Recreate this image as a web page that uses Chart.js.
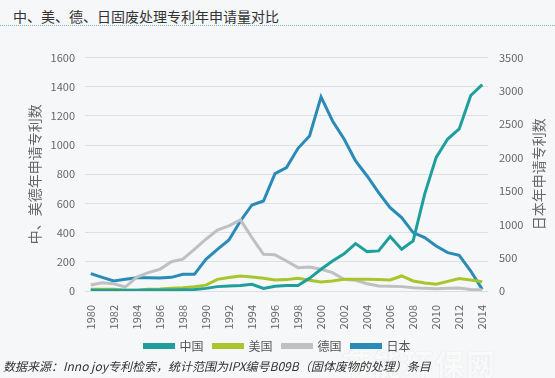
<!DOCTYPE html>
<html lang="zh">
<head>
    <meta charset="UTF-8">
    <title>中、美、德、日固废处理专利年申请量对比</title>
    <script src="https://cdn.jsdelivr.net/npm/chart.js"></script>
    <style>
        body {
            margin: 0;
            width: 555px;
            height: 378px;
            background: #f6f7f9;
            font-family: "Noto Sans CJK SC", sans-serif;
            position: relative;
            overflow: hidden;
        }
        .title {
            position: absolute;
            left: 13px;
            top: 6px;
            font-size: 14px;
            color: #333;
        }
        .rule {
            position: absolute;
            left: 0;
            right: 0;
            top: 25px;
            border-top: 1px dotted #7fb9b3;
        }
        .chart-box {
            position: absolute;
            left: 0;
            top: 40px;
            width: 555px;
            height: 323px;
        }
        .source {
            position: absolute;
            left: 3px;
            top: 357px;
            font-size: 12px;
            font-style: italic;
            color: #333;
        }
        .mark {
            position: absolute;
            left: 342px;
            top: 342px;
            font-size: 29px;
            font-weight: bold;
            letter-spacing: 2px;
            color: rgba(255, 255, 255, 0.9);
            text-shadow: 0 0 1px #cfd5da;
        }
    </style>
</head>
<body>
    <div class="title">中、美、德、日固废处理专利年申请量对比</div>
    <div class="rule"></div>

    <div class="mark">节能环保网</div>

    <div class="chart-box">
        <canvas id="patentChart" width="555" height="323"></canvas>
    </div>

    <div class="source">数据来源：Inno joy专利检索，统计范围为IPX编号B09B（固体废物的处理）条目</div>

    <script>
        // years 1980 - 2014
        let years = [];
        for (let y = 1980; y <= 2014; y++) years.push(String(y));

        // left axis (中、美、德)
        let china = [5, 5, 5, 5, 5, 6, 6, 7, 8, 10, 18, 30, 35, 37, 46, 18, 32, 38, 38, 87,
                     149, 206, 255, 325, 270, 275, 373, 286, 343, 664, 916, 1042, 1111, 1340, 1415];
        let usa = [12, 12, 12, 5, 5, 12, 14, 19, 23, 30, 40, 80, 92, 103, 96, 87, 76, 78, 87, 73,
                   62, 69, 80, 80, 80, 78, 76, 103, 69, 55, 46, 66, 85, 76, 64];
        let germany = [41, 57, 50, 27, 96, 126, 149, 201, 218, 286, 355, 417, 447, 488, 366, 252, 248, 206, 160, 165,
                       149, 126, 80, 73, 50, 34, 32, 30, 23, 18, 16, 18, 21, 10, 8];
        // right axis (日本)
        let japan = [260, 205, 150, 175, 200, 200, 195, 205, 250, 250, 475, 625, 765, 1050, 1290, 1350, 1760, 1850, 2140, 2325,
                     2910, 2550, 2280, 1950, 1725, 1475, 1250, 1100, 875, 800, 675, 575, 535, 300, 25];

        let leftTitle = "中、美德年申请专利数";
        let rightTitle = "日本年申请专利数";

        let tickColor = "#666";
        let gridColor = "#dddfe2";

        // right axis title reads bottom-to-top like the left one
        let rightTitlePlugin = {
            id: "rightTitle",
            afterDraw(chart) {
                let ctx = chart.ctx;
                let area = chart.chartArea;
                ctx.save();
                ctx.translate(539, (area.top + area.bottom) / 2);
                ctx.rotate(-Math.PI / 2);
                ctx.fillStyle = tickColor;
                ctx.font = "14px 'Noto Sans CJK SC'";
                ctx.textAlign = "center";
                ctx.textBaseline = "middle";
                ctx.fillText(rightTitle, 0, 0);
                ctx.restore();
            }
        };

        function lineSet(label, data, color, axis, width) {
            return {
                label: label,
                data: data,
                yAxisID: axis,
                borderColor: color,
                backgroundColor: color,
                borderWidth: width,
                pointRadius: 0,
                tension: 0,
                fill: false
            };
        }

        let plain = v => String(v);

        let ctx = document.getElementById("patentChart").getContext("2d");
        let patentChart = new Chart(ctx, {
            type: "line",
            data: {
                labels: years,
                datasets: [
                    lineSet("中国", china, "#1f9f9b", "y", 3),
                    lineSet("美国", usa, "#a8c52c", "y", 3),
                    lineSet("德国", germany, "#bfc0c2", "y", 3),
                    lineSet("日本", japan, "#2a8bb6", "y2", 3)
                ]
            },
            options: {
                responsive: false,
                animation: false,
                layout: { padding: { top: 17, left: 0, right: 0, bottom: 1 } },
                font: { family: "'Noto Sans CJK SC', sans-serif" },
                plugins: {
                    tooltip: { enabled: false },
                    legend: {
                        position: "bottom",
                        labels: {
                            boxWidth: 29,
                            boxHeight: 3,
                            padding: 10,
                            color: "#555",
                            font: { size: 12, family: "'Noto Sans CJK SC'" }
                        }
                    }
                },
                scales: {
                    x: {
                        offset: true,
                        grid: { display: false },
                        border: { display: false },
                        afterFit(scale) { scale.height = 39; },
                        ticks: {
                            autoSkip: false,
                            minRotation: 90,
                            maxRotation: 90,
                            padding: 6,
                            color: tickColor,
                            font: { size: 11 },
                            callback: function (value, index) {
                                return index % 2 === 0 ? this.getLabelForValue(value) : "";
                            }
                        }
                    },
                    y: {
                        position: "left",
                        min: 0,
                        max: 1600,
                        afterFit(scale) { scale.width = 85; },
                        grid: { color: gridColor, drawTicks: false },
                        border: { display: false },
                        ticks: { stepSize: 200, padding: 10, color: tickColor, font: { size: 11 }, callback: plain },
                        title: {
                            display: true,
                            text: leftTitle,
                            color: tickColor,
                            font: { size: 14, family: "'Noto Sans CJK SC'" },
                            padding: { top: 26, bottom: 0 }
                        }
                    },
                    y2: {
                        position: "right",
                        min: 0,
                        max: 3500,
                        afterFit(scale) { scale.width = 67; },
                        grid: { display: false, drawTicks: false },
                        border: { display: false },
                        ticks: { stepSize: 500, padding: 11, color: tickColor, font: { size: 11 }, callback: plain }
                    }
                }
            },
            plugins: [rightTitlePlugin]
        });
    </script>
</body>
</html>
